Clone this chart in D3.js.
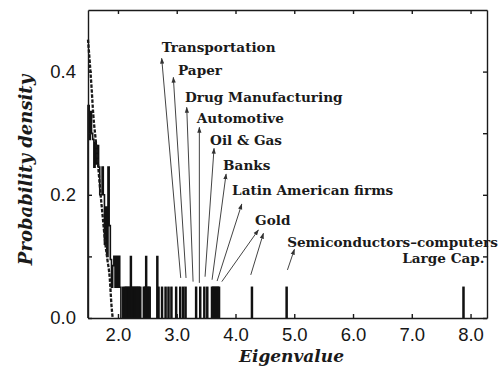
<!DOCTYPE html>
<html>
<head>
<meta charset="utf-8">
<title>Eigenvalue distribution</title>
<script src="https://d3js.org/d3.v7.min.js"></script>
<style>
    body { margin: 0; background: #fff; }
    .axis text { font-family: "Liberation Sans", Arial, sans-serif; font-size: 18.5px; fill: #161616; }
    .axis path, .axis line { stroke: #1a1a1a; stroke-width: 1.4; }
    .note { font-family: "DejaVu Serif", serif; font-weight: bold; font-size: 13.6px; fill: #1a1a1a; }
    .title { font-family: "DejaVu Serif", serif; font-weight: bold; font-style: italic; font-size: 18px; fill: #1a1a1a; }
</style>
</head>
<body>
<div id="cont"></div>
<script>
// bulk of the spectrum: left edge of each bin (width 0.02) and its density
var bulkEdges = [1.49, 1.51, 1.53, 1.55, 1.57, 1.59, 1.61, 1.63, 1.65, 1.67, 1.69, 1.71, 1.73, 1.75,
    1.77, 1.79, 1.81, 1.83, 1.85, 1.87, 1.89, 1.91, 1.93, 1.95, 1.97, 1.99, 2.01, 2.03];
var bulkDensity = [0.345, 0.29, 0.335, 0.30, 0.29, 0.245, 0.285, 0.25, 0.28, 0.245, 0.20, 0.20, 0.245, 0.20,
    0.12, 0.18, 0.10, 0.245, 0.15, 0.095, 0.05, 0.085, 0.10, 0.05, 0.10, 0.05, 0.10, 0.05];

// eigenvalues outside the bulk: bin centre and how many fall in it
var tailCenters = [2.09, 2.12, 2.14, 2.16, 2.18, 2.20, 2.22, 2.24, 2.26, 2.28, 2.30, 2.32, 2.34, 2.36, 2.38,
    2.44, 2.46, 2.48, 2.50, 2.52, 2.54, 2.67, 2.69, 2.75, 2.81, 2.86, 2.91, 2.99, 3.06, 3.11, 3.15,
    3.33, 3.40, 3.47, 3.52, 3.60, 3.62, 3.64, 3.66, 3.68, 3.70, 3.72, 4.28, 4.87, 7.88];
var tailCounts = [1, 1, 1, 1, 1, 1, 2, 1, 1, 1, 1, 1, 1, 1, 1,
    1, 1, 2, 1, 1, 1, 2, 1, 1, 1, 1, 1, 1, 1, 1, 1,
    1, 1, 1, 1, 1, 1, 1, 1, 1, 1, 1, 1, 1, 1];

// dashed random matrix curve
var curveX = [1.49, 1.52, 1.55, 1.58, 1.62, 1.66, 1.70, 1.74, 1.78, 1.82, 1.86, 1.89, 1.91];
var curveY = [0.452, 0.415, 0.375, 0.33, 0.29, 0.25, 0.205, 0.165, 0.125, 0.095, 0.065, 0.02, 0.0];

// labels (left edge of text, baseline)
var noteNames = ['Transportation', 'Paper', 'Drug Manufacturing', 'Automotive', 'Oil & Gas', 'Banks',
    'Latin American firms', 'Gold', 'Semiconductors\u2013computers', 'Large Cap.'];
var noteX = [2.744, 3.022, 3.141, 3.34, 3.567, 3.789, 3.942, 4.334, 4.879, 6.838];
var noteY = [0.432, 0.3945, 0.351, 0.3166, 0.281, 0.2403, 0.1997, 0.151, 0.1153, 0.0893];

// arrows from the eigenvalue bars up to the labels
var arrowFromX = [3.068, 3.158, 3.278, 3.385, 3.482, 3.601, 3.687, 3.767, 4.26, 4.884];
var arrowFromY = [0.065, 0.065, 0.059, 0.057, 0.067, 0.062, 0.060, 0.059, 0.070, 0.078];
var arrowToX = [2.744, 2.942, 3.170, 3.385, 3.635, 3.84, 4.107, 4.39, 4.475, 5.003];
var arrowToY = [0.4216, 0.3907, 0.342, 0.3096, 0.2755, 0.2338, 0.185, 0.143, 0.1375, 0.1115];

var xTicks = [2, 3, 4, 5, 6, 7, 8];
var yTicks = [0, 0.1, 0.2, 0.3, 0.4];
var yLabelled = [0, 0.2, 0.4];

(function() {
    var W = 498, H = 376,
        margin = { top: 10, right: 11, bottom: 58, left: 88 },
        width = W - margin.left - margin.right,
        height = H - margin.top - margin.bottom,
        binW = 0.02, perCount = 0.05,
        svg, x, y;

    svg = d3.select('#cont').append('svg')
        .attr('width', W)
        .attr('height', H)
        .style('display', 'block')
        .append('g')
        .attr('transform', 'translate(' + margin.left + ',' + margin.top + ')');

    x = d3.scaleLinear().domain([1.49, 8.28]).range([0, width]);
    y = d3.scaleLinear().domain([0, 0.5]).range([height, 0]);

    //Arrow head
    svg.append('defs').append('marker')
        .attr('id', 'head')
        .attr('viewBox', '0 0 10 10')
        .attr('refX', 9).attr('refY', 5)
        .attr('markerWidth', 6).attr('markerHeight', 6)
        .attr('markerUnits', 'userSpaceOnUse')
        .attr('orient', 'auto')
        .append('path')
        .attr('d', 'M0,1.5 L10,5 L0,8.5 Z')
        .attr('fill', '#333');

    //Bulk as a step outline
    var stepPts = [[bulkEdges[0], 0]];
    bulkEdges.forEach(function(e, i) { stepPts.push([e, bulkDensity[i]]); });
    stepPts.push([bulkEdges[bulkEdges.length - 1] + binW, 0]);

    svg.append('path')
        .attr('d', d3.line()
            .x(function(d) { return x(d[0]); })
            .y(function(d) { return y(d[1]); })
            .curve(d3.curveStepAfter)(stepPts))
        .attr('fill', 'none')
        .attr('stroke', '#111')
        .attr('stroke-width', 1.6);

    //Outlying eigenvalues
    svg.selectAll('rect.tail')
        .data(tailCenters)
        .enter()
        .append('rect')
        .attr('class', 'tail')
        .attr('x', function(d) { return x(d - binW / 2); })
        .attr('width', x(binW) - x(0))
        .attr('y', function(d, i) { return y(tailCounts[i] * perCount); })
        .attr('height', function(d, i) { return height - y(tailCounts[i] * perCount); })
        .attr('fill', '#111')
        .attr('stroke', '#111')
        .attr('stroke-width', 1.3);

    //Dashed RMT curve
    svg.append('path')
        .attr('d', d3.line()
            .x(function(d) { return x(d); })
            .y(function(d, i) { return y(curveY[i]); })
            .curve(d3.curveMonotoneX)(curveX))
        .attr('fill', 'none')
        .attr('stroke', '#1a1a1a')
        .attr('stroke-width', 2.3)
        .attr('stroke-dasharray', '3.5,1.5');

    //Arrows
    svg.selectAll('line.arrow')
        .data(arrowFromX)
        .enter()
        .append('line')
        .attr('class', 'arrow')
        .attr('x1', function(d) { return x(d); })
        .attr('y1', function(d, i) { return y(arrowFromY[i]); })
        .attr('x2', function(d, i) { return x(arrowToX[i]); })
        .attr('y2', function(d, i) { return y(arrowToY[i]); })
        .attr('stroke', '#444')
        .attr('stroke-width', 1)
        .attr('marker-end', 'url(#head)');

    //Labels
    svg.selectAll('text.note')
        .data(noteNames)
        .enter()
        .append('text')
        .attr('class', 'note')
        .attr('x', function(d, i) { return x(noteX[i]); })
        .attr('y', function(d, i) { return y(noteY[i]); })
        .text(function(d) { return d; });

    //Axes, ticks pointing inward
    svg.append('g')
        .attr('class', 'axis')
        .attr('transform', 'translate(0,' + height + ')')
        .call(d3.axisBottom(x).tickValues(xTicks).tickFormat(d3.format('.1f'))
            .tickSize(-4).tickSizeOuter(0).tickPadding(10));

    svg.append('g')
        .attr('class', 'axis')
        .call(d3.axisTop(x).tickValues(xTicks).tickFormat('').tickSize(-4).tickSizeOuter(0));

    svg.append('g')
        .attr('class', 'axis')
        .call(d3.axisLeft(y).tickValues(yTicks)
            .tickFormat(function(d) { return yLabelled.indexOf(d) > -1 ? d3.format('.1f')(d) : ''; })
            .tickSize(-4).tickSizeOuter(0).tickPadding(12));

    svg.append('g')
        .attr('class', 'axis')
        .attr('transform', 'translate(' + width + ',0)')
        .call(d3.axisRight(y).tickValues(yTicks).tickFormat('').tickSize(-4).tickSizeOuter(0));

    //Axis titles
    svg.append('text')
        .attr('class', 'title')
        .attr('x', width / 2 + 4)
        .attr('y', height + 44)
        .attr('text-anchor', 'middle')
        .style('font-size', '17px')
        .text('Eigenvalue');

    svg.append('text')
        .attr('class', 'title')
        .attr('transform', 'translate(' + (32 - margin.left) + ',' + (170 - margin.top) + ') rotate(-90)')
        .attr('text-anchor', 'middle')
        .text('Probability density');
})();
</script>
</body>
</html>
